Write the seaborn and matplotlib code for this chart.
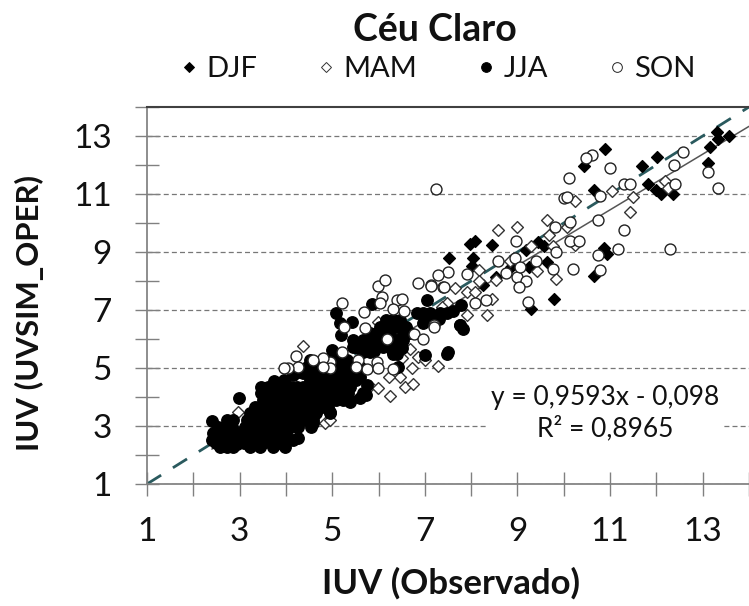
import matplotlib
matplotlib.use("Agg")
import matplotlib.pyplot as plt
from matplotlib.lines import Line2D
import seaborn as sns
import pandas as pd

djf_x = [10.9,10.44,11.68,12.02,11.82,12.0,12.11,12.36,10.65,13.31,13.32,13.57,13.15,13.11,7.97,8.09,8.44,7.52,8.04,8.02,9.45,9.58,9.19,8.87,9.24,9.63,10.87,10.93,10.65,9.78,9.3,8.53,8.26]
djf_y = [12.55,11.97,11.98,12.27,11.35,11.14,11.0,11.0,11.14,13.15,12.9,13.0,12.63,12.06,9.26,9.38,9.24,8.78,8.78,8.52,9.35,9.22,9.07,8.5,8.5,8.67,9.13,8.92,8.18,7.38,7.05,8.15,7.86]

mam_x = [8.58,8.98,9.64,9.68,10.24,11.05,11.5,11.42,12.18,12.25,10.06,10.25,9.83,9.42,8.17,8.17,8.53,7.65,7.9,8.44,8.35,7.91,7.47,8.08,8.83,9.3,9.77,7.36,
         4.37,2.97,4.3,4.84,4.95,6.24,5.81,5.98,6.57,6.75,6.47,6.23,6.73,7.29,6.86,7.0,6.68,6.5,5.99]
mam_y = [9.76,9.87,10.1,9.6,10.76,11.12,10.9,10.39,11.45,11.2,9.87,9.24,8.07,8.36,8.38,8.0,8.03,7.75,7.63,7.38,6.83,6.83,7.23,7.63,8.7,9.19,9.19,7.1,
         5.76,3.5,3.06,3.1,3.2,4.05,4.38,4.3,4.36,4.45,4.7,4.7,4.99,5.07,5.37,5.28,5.64,5.33,6.6]

jja_x = [2.58,2.72,2.86,3.22,3.44,3.73,3.98,
         2.4,2.54,2.68,2.83,2.97,3.11,3.26,3.4,3.55,3.69,3.83,3.98,4.16,
         2.43,2.58,2.72,2.86,3.0,3.15,3.3,3.44,3.58,3.73,3.87,4.01,4.27,
         2.54,2.68,2.83,3.11,3.26,3.4,3.55,3.69,3.83,3.98,4.12,4.27,4.55,
         2.4,2.72,2.86,3.15,3.3,3.44,3.58,3.73,3.87,4.01,4.16,4.3,4.45,4.59,
         3.22,3.37,3.51,3.65,3.8,3.94,4.09,4.23,4.37,4.52,4.66,4.95,
         3.33,3.47,3.62,3.76,3.91,4.05,4.19,4.34,4.48,4.63,4.77,4.91,
         2.99,3.51,3.65,3.8,3.94,4.09,4.23,4.37,4.52,4.66,4.81,4.95,5.09,5.24,5.38,5.6,
         3.47,3.62,3.76,3.91,4.05,4.19,4.34,4.48,4.63,4.77,4.91,5.06,5.2,5.35,5.67,
         3.47,3.62,3.8,3.94,4.09,4.23,4.37,4.52,4.66,4.81,4.95,5.09,5.24,5.38,
         4.52,4.66,4.81,4.95,5.09,5.24,5.38,5.52,
         4.37,4.52,4.66,4.81,4.95,5.09,5.24,5.38,5.52,
         4.45,4.59,4.73,5.09,5.24,5.38,5.6,
         4.52,5.02,5.31,
         5.02,5.67,5.81,
         5.45,5.67,5.81,5.96,6.1,6.32,6.46,
         5.45,5.67,5.81,5.99,6.39,6.53,
         5.81,5.96,6.1,6.24,6.53,6.68,
         6.03,6.17,6.32,6.46,6.6,
         6.17,6.32,6.46,
         5.09,6.82,6.96,7.11,7.32,7.47,
         5.17,5.42,6.96,5.2,7.04,7.0,7.47,5.85,6.32,6.39,
         7.1,7.3,7.6,7.79,7.76,7.83,
         2.5,2.65,2.8,2.95,3.1,3.3,3.5,3.85,
         3.6,3.85,4.1,4.35,
         4.7,4.85,5.0,5.15,5.3,5.45,
         4.59,4.95,5.38,5.74,
         5.0,5.15,5.3,5.55,5.6,5.75,5.55,5.9,6.1,6.5,6.3,6.42,
         3.75,3.95,4.15,4.3,
         7.75,7.5]
jja_y = [2.29,2.29,2.29,2.29,2.29,2.29,2.29,
         2.52,2.52,2.52,2.52,2.52,2.52,2.52,2.52,2.52,2.52,2.52,2.52,2.52,
         2.75,2.75,2.75,2.75,2.75,2.75,2.75,2.75,2.75,2.75,2.75,2.75,2.6,
         2.98,2.98,2.98,2.98,2.98,2.98,2.98,2.98,2.98,2.98,2.98,2.98,2.98,
         3.17,3.21,3.21,3.21,3.21,3.21,3.21,3.21,3.21,3.21,3.21,3.21,3.21,3.21,
         3.44,3.44,3.44,3.44,3.44,3.44,3.44,3.44,3.44,3.44,3.44,3.44,
         3.67,3.67,3.67,3.67,3.67,3.67,3.67,3.67,3.67,3.67,3.67,3.67,
         3.95,3.9,3.9,3.9,3.9,3.9,3.9,3.9,3.9,3.9,3.9,3.9,3.9,3.9,3.9,3.95,
         4.13,4.13,4.13,4.13,4.13,4.13,4.13,4.13,4.13,4.13,4.13,4.13,4.13,4.13,4.13,
         4.36,4.36,4.36,4.36,4.36,4.36,4.36,4.36,4.36,4.36,4.36,4.36,4.36,4.36,
         4.59,4.59,4.59,4.59,4.59,4.59,4.59,4.59,
         4.82,4.82,4.82,4.82,4.82,4.82,4.82,4.82,4.82,
         5.05,5.05,5.05,5.05,5.05,5.05,5.05,
         5.28,5.28,5.28,
         5.56,5.56,5.56,
         5.74,5.74,5.74,5.74,5.74,5.74,5.74,
         5.97,5.97,5.97,5.97,5.97,5.97,
         6.2,6.2,6.2,6.2,6.2,6.2,
         6.43,6.43,6.43,6.43,6.43,
         6.65,6.65,6.65,
         6.89,6.89,6.89,6.89,6.89,6.89,
         6.55,6.6,6.55,6.15,7.35,5.45,5.5,7.2,5.5,5.5,
         6.83,6.7,6.95,7.17,6.5,6.35,
         2.4,2.38,2.4,2.38,2.4,2.38,2.4,2.4,
         3.0,3.1,3.2,3.3,
         4.2,4.3,4.4,4.5,4.6,4.7,
         3.09,3.49,3.84,4.07,
         5.62,5.4,5.1,5.0,4.7,4.4,5.7,5.6,5.9,5.7,5.62,5.04,
         4.55,4.6,4.75,4.85,
         6.48,5.54]

son_x = [7.25,10.61,10.47,11.0,10.12,10.0,10.06,10.79,11.3,11.42,12.37,12.58,12.4,13.12,13.34,10.14,10.73,11.3,9.82,10.13,10.32,8.96,11.18,12.3,10.73,9.83,10.79,10.19,8.58,8.94,9.41,9.76,8.76,8.98,9.19,9.03,9.22,9.05,7.49,7.29,7.91,7.4,7.14,8.09,8.31,7.2,
         5.22,5.68,5.26,5.71,6.08,5.99,6.14,6.03,6.39,6.5,6.32,6.55,6.86,7.13,7.41,6.77,6.96,7.19,6.19,5.22,5.96,5.76,5.56,6.32,5.99,5.52,4.95,4.8,4.58,4.22,4.25,4.05,3.96,4.95,4.8]
son_y = [11.17,12.35,12.23,11.9,11.56,10.85,10.89,10.93,11.33,11.33,12.0,12.44,11.33,11.75,11.22,10.05,10.1,9.76,9.87,9.39,9.39,9.39,9.1,9.09,8.9,8.99,8.38,8.41,8.7,8.8,8.7,8.41,8.26,8.13,8.0,7.78,7.26,8.5,8.32,8.2,8.23,7.8,7.86,7.25,7.35,6.48,
         7.25,6.92,6.43,6.39,7.46,7.83,8.03,7.23,7.34,7.37,7.02,6.96,7.92,7.83,7.8,6.16,6.0,6.43,6.0,5.56,5.22,4.95,5.28,4.95,4.99,5.05,5.22,5.33,5.28,5.41,5.02,4.99,4.99,4.99,5.02]

ref_x = [1, 14]
ref_y = [1, 14]
trend_x = [2.4, 14]
trend_y = [2.204, 13.332]
ticks = [1, 3, 5, 7, 9, 11, 13]
minor = [2, 4, 6, 8, 10, 12, 14]
title = "Céu Claro"
xlabel = "IUV (Observado)"
ylabel = "IUV (UVSIM_OPER)"
equation = "y = 0,9593x - 0,098\nR² = 0,8965"

sns.set_theme(style="white")
plt.rcParams['font.family'] = ['Lato', 'DejaVu Sans']

W, H = 749, 606
fig = plt.figure(figsize=(W/100, H/100), dpi=100)
ax = fig.add_axes([147/W, 1-484/H, (749-147)/W, (484-107)/H])
ax.set_xlim(1, 14)
ax.set_ylim(1, 14)

gray = "#808080"
ax.set_xticks(ticks); ax.set_yticks(ticks)
ax.set_xticks(minor, minor=True); ax.set_yticks(minor, minor=True)
ax.tick_params(which="both", direction="inout", length=17, width=1, color=gray,
               labelsize=24, labelcolor="#111111", bottom=True, left=True)
ax.tick_params(axis="x", pad=15)
ax.tick_params(axis="y", pad=17)
ax.grid(True, which="major", axis="y", color="#777777", lw=0.9, ls=(0, (4, 2.5)))
ax.grid(False, axis="x")
ax.set_axisbelow(True)
ax.spines["right"].set_visible(False)
ax.spines["top"].set_color("#404040"); ax.spines["top"].set_linewidth(1.5)
ax.spines["left"].set_color(gray); ax.spines["bottom"].set_color(gray)

sns.lineplot(x=ref_x, y=ref_y, ax=ax, color="#2a5a5e", lw=2, zorder=1.5,
             linestyle=(0, (6, 5)), errorbar=None, legend=False, clip_on=False)
sns.lineplot(x=trend_x, y=trend_y, ax=ax, color="#555555", lw=1.1, zorder=1.6,
             errorbar=None, legend=False)

series = [
    ("DJF", djf_x, djf_y, "D", 36, "black", "black"),
    ("MAM", mam_x, mam_y, "D", 36, "white", "#333333"),
    ("JJA", jja_x, jja_y, "o", 68, "black", "black"),
    ("SON", son_x, son_y, "o", 62, "white", "#222222"),
]
for i, (name, xs, ys, m, s, fc, ec) in enumerate(series):
    df = pd.DataFrame({"x": xs, "y": ys})
    sns.scatterplot(data=df, x="x", y="y", ax=ax, marker=m, s=s, color=fc,
                    edgecolor=ec, linewidth=1.0, zorder=3+i, legend=False, clip_on=False)

ax.set_xlabel(""); ax.set_ylabel("")
fig.text(451/W, 1-583/H, xlabel, ha="center", va="center", fontsize=25, fontweight="bold", color="#111111")
fig.text(29/W, 1-313/H, ylabel, ha="center", va="center", rotation=90, fontsize=22.4, fontweight="bold", color="#111111")
fig.text(435/W, 1-30/H, title, ha="center", va="center", fontsize=27, fontweight="bold", color="#111111")

handles = [Line2D([], [], ls="", marker=m, ms=7 if m == "o" else 5, mfc=fc, mec=ec, mew=0.7, label=n)
           for n, _, _, m, _, fc, ec in series]
fig.legend(handles=handles, loc="center", bbox_to_anchor=(435/W, 1-69/H), ncol=4, frameon=False,
           fontsize=21, handletextpad=0.1, columnspacing=1.85, handlelength=1.0, labelcolor="#111111")

ax.annotate(equation, xy=(605/W, 1-413/H), xycoords="figure fraction", ha="center", va="center",
            fontsize=19, color="#111111", zorder=2, linespacing=1.25,
            bbox=dict(fc="white", ec="none", pad=3))
fig.savefig("out.png", dpi=100)
